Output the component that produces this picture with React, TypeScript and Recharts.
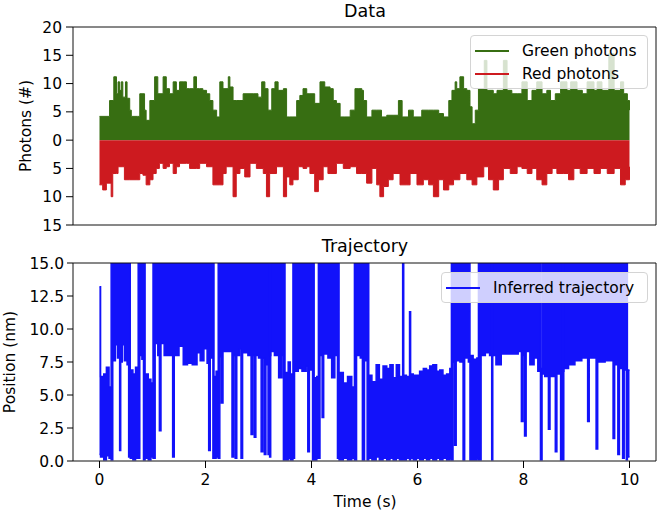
import React from "react";
import { AreaChart, Area, XAxis, YAxis, ReferenceArea, Legend } from "recharts";

const FONT = '"DejaVu Sans", Verdana, sans-serif';
const GREEN = "#376e12";
const RED = "#cd1a1f";
const BLUE = "#1212fa";

const timeTicks = [0, 2, 4, 6, 8, 10];
const photonTicks = [-15, -10, -5, 0, 5, 10, 15, 20];
const positionTicks = [0, 2.5, 5, 7.5, 10, 12.5, 15];

// green photon counts (upper envelope of the trace)
const greenT = [
  0, 0.18, 0.19, 0.27, 0.32, 0.35, 0.38, 0.41, 0.44, 0.49, 0.52, 0.57, 0.6, 0.72, 0.76, 0.82, 0.85, 0.88, 0.95,
  1.04, 1.1, 1.2, 1.26, 1.32, 1.39, 1.45, 1.51, 1.58, 1.64, 1.7, 1.78, 1.83, 1.89, 1.95, 2.02, 2.08, 2.14, 2.21,
  2.27, 2.33, 2.43, 2.46, 2.52, 2.58, 2.65, 2.71, 2.9, 2.99, 3.06, 3.12, 3.18, 3.25, 3.31, 3.37, 3.47, 3.53, 3.59,
  3.65, 3.72, 3.78, 3.84, 3.91, 3.97, 4.06, 4.16, 4.25, 4.35, 4.41, 4.47, 4.54, 4.63, 4.73, 4.82, 4.88, 4.95, 4.98,
  5.04, 5.14, 5.23, 5.32, 5.42, 5.54, 5.64, 5.71, 5.83, 5.92, 6.08, 6.21, 6.3, 6.4, 6.49, 6.59, 6.65, 6.71, 6.74,
  6.8, 6.87, 6.93, 6.99, 7.03, 7.09, 7.15, 7.21, 7.26, 7.31, 7.43, 7.5, 7.62, 7.69, 7.78, 7.88, 7.97, 8.07, 8.16,
  8.25, 8.35, 8.44, 8.51, 8.6, 8.7, 8.82, 8.89, 9.01, 9.11, 9.2, 9.33, 9.39, 9.48, 9.61, 9.71, 9.83, 9.89, 9.96, 10,
];
const greenV = [
  4.2, 4.2, 7.0, 11.2, 8.2, 10.3, 8.8, 10.3, 7.6, 10.3, 7.4, 5.3, 4.2, 4.2, 8.2, 8.2, 5.3, 3.5, 7.0,
  11.2, 8.2, 11.2, 9.1, 8.2, 10.3, 8.8, 10.3, 10.3, 9.1, 9.1, 11.2, 9.1, 9.1, 8.8, 8.2, 7.0, 5.3, 4.1,
  10.3, 9.1, 11.2, 9.4, 7.0, 7.0, 7.0, 8.2, 8.2, 7.6, 10.3, 9.1, 5.3, 9.1, 10.3, 8.8, 9.1, 4.1, 4.1,
  4.1, 7.0, 7.9, 9.1, 8.2, 8.2, 6.5, 10.3, 9.4, 9.1, 7.0, 6.5, 4.1, 4.1, 5.3, 9.1, 9.1, 8.8, 7.0,
  4.1, 5.3, 5.3, 4.1, 4.4, 4.4, 7.0, 4.1, 5.3, 4.1, 5.3, 5.3, 5.3, 4.7, 4.1, 7.0, 8.8, 10.3, 9.1,
  11.2, 9.1, 8.8, 5.9, 2.9, 5.3, 9.1, 9.1, 14.1, 8.8, 8.2, 8.8, 14.1, 8.8, 8.2, 8.2, 10.3, 7.0, 8.8,
  10.3, 8.2, 8.8, 7.0, 8.2, 10.3, 8.8, 10.3, 8.8, 8.2, 10.3, 8.8, 10.3, 8.8, 15.3, 8.8, 10.3, 8.2, 7.0, 5.3,
];

// red photon counts (drawn downwards)
const redT = [
  0, 0.06, 0.13, 0.22, 0.25, 0.32, 0.35, 0.44, 0.47, 0.57, 0.69, 0.76, 0.82, 0.88, 0.95, 1.01, 1.07, 1.13, 1.2,
  1.26, 1.32, 1.39, 1.45, 1.51, 1.64, 1.7, 1.83, 1.89, 2.02, 2.14, 2.27, 2.33, 2.39, 2.52, 2.58, 2.65, 2.74, 2.84,
  2.96, 3.09, 3.15, 3.21, 3.34, 3.47, 3.53, 3.59, 3.65, 3.75, 3.84, 3.91, 3.97, 4.06, 4.13, 4.22, 4.31, 4.35, 4.47,
  4.6, 4.73, 4.85, 4.95, 5.04, 5.14, 5.23, 5.29, 5.36, 5.45, 5.54, 5.67, 5.8, 5.86, 5.99, 6.11, 6.21, 6.3, 6.4,
  6.49, 6.59, 6.68, 6.8, 6.93, 7.03, 7.12, 7.25, 7.34, 7.43, 7.53, 7.62, 7.75, 7.88, 7.97, 8.07, 8.16, 8.25, 8.35,
  8.44, 8.54, 8.63, 8.76, 8.85, 8.95, 9.07, 9.2, 9.33, 9.45, 9.58, 9.71, 9.83, 9.92, 10,
];
const redV = [
  7.9, 8.8, 7.6, 10.0, 5.9, 5.9, 4.7, 4.7, 7.0, 7.0, 7.0, 5.9, 6.2, 7.9, 7.0, 5.9, 5.0, 4.1, 5.0,
  4.7, 4.1, 5.9, 4.7, 4.1, 4.1, 5.0, 5.0, 4.1, 4.7, 7.9, 7.9, 5.9, 4.7, 10.0, 5.9, 5.0, 6.5, 4.1,
  5.0, 5.9, 10.0, 5.9, 4.7, 10.0, 6.5, 7.9, 7.0, 4.7, 5.0, 4.7, 5.9, 9.1, 7.0, 4.7, 5.9, 5.9, 4.1,
  5.0, 4.7, 5.9, 5.9, 7.6, 5.0, 7.9, 10.0, 8.2, 7.0, 5.9, 7.9, 7.9, 5.9, 7.9, 7.0, 7.9, 10.0, 7.0,
  8.8, 7.9, 7.0, 5.9, 7.0, 7.9, 6.5, 4.7, 7.0, 8.8, 7.0, 5.0, 5.9, 4.7, 5.0, 5.9, 5.0, 7.0, 7.9,
  5.9, 5.0, 5.9, 5.9, 7.0, 5.0, 5.9, 5.0, 5.9, 5.0, 5.9, 5.0, 7.9, 7.0, 4.7,
];

// inferred trajectory: lower / upper extent of the trace around each time
const blueT = [
  0, 0.02, 0.08, 0.13, 0.18, 0.22, 0.25, 0.3, 0.34, 0.38, 0.4, 0.43, 0.47, 0.52, 0.55, 0.58, 0.63, 0.68, 0.73,
  0.76, 0.8, 0.83, 0.86, 0.92, 0.97, 1.01, 1.05, 1.1, 1.13, 1.16, 1.22, 1.3, 1.38, 1.41, 1.5, 1.58, 1.66, 1.75,
  1.84, 1.9, 1.97, 2.03, 2.06, 2.09, 2.14, 2.16, 2.2, 2.24, 2.27, 2.3, 2.33, 2.5, 2.53, 2.56, 2.59, 2.64, 2.67,
  2.7, 2.8, 2.86, 2.89, 2.92, 2.95, 3.0, 3.05, 3.08, 3.11, 3.14, 3.18, 3.21, 3.23, 3.3, 3.38, 3.44, 3.47, 3.5,
  3.56, 3.6, 3.65, 3.68, 3.75, 3.82, 3.9, 3.93, 3.96, 4.02, 4.05, 4.1, 4.13, 4.16, 4.2, 4.23, 4.31, 4.38, 4.44,
  4.49, 4.52, 4.6, 4.68, 4.76, 4.81, 4.85, 4.92, 4.96, 5.0, 5.05, 5.08, 5.14, 5.22, 5.28, 5.35, 5.42, 5.48, 5.54,
  5.6, 5.66, 5.72, 5.74, 5.79, 5.85, 5.87, 5.92, 5.98, 6.04, 6.11, 6.17, 6.23, 6.29, 6.36, 6.42, 6.48, 6.55, 6.61,
  6.64, 6.67, 6.7, 6.73, 6.8, 6.86, 6.89, 6.96, 6.99, 7.05, 7.12, 7.15, 7.2, 7.28, 7.36, 7.4, 7.42, 7.48, 7.58,
  7.7, 7.8, 7.9, 7.96, 7.99, 8.02, 8.05, 8.12, 8.2, 8.27, 8.32, 8.35, 8.4, 8.47, 8.5, 8.6, 8.63, 8.7, 8.74, 8.76,
  8.85, 8.97, 9.1, 9.21, 9.24, 9.37, 9.4, 9.54, 9.69, 9.72, 9.78, 9.81, 9.87, 9.9, 9.94, 9.96, 10,
];
const blueLo = [
  0.5, 0.3, 0.1, 0.4, 0.2, 0.1, 7.6, 8.8, 7.8, 0.8, 7.5, 8.8, 7.6, 7.3, 0.3, 0.2, 0.1, 0.2, 0.2,
  8.0, 7.7, 0.1, 0.2, 0.1, 0.3, 0.2, 8.9, 8.0, 2.3, 8.9, 8.0, 8.0, 0.3, 8.0, 8.7, 7.3, 7.4, 7.3,
  8.2, 7.6, 8.5, 7.4, 0.8, 7.8, 0.2, 0.2, 0.3, 0.2, 7.9, 4.4, 8.3, 0.3, 8.0, 0.2, 8.0, 8.5, 0.2,
  8.2, 8.0, 2.0, 8.0, 1.8, 8.0, 7.8, 0.7, 7.8, 0.5, 7.3, 0.5, 0.3, 8.3, 8.0, 6.3, 8.0, 0.1, 0.1,
  0.2, 0.1, 0.2, 6.8, 7.0, 6.8, 7.2, 0.7, 6.9, 0.1, 0.1, 0.2, 0.2, 8.0, 3.3, 8.1, 7.8, 6.3, 8.0,
  0.2, 0.1, 0.2, 0.1, 0.2, 0.1, 8.0, 7.8, 0.1, 7.6, 0.1, 0.2, 0.1, 0.3, 0.1, 0.2, 0.1, 0.2, 0.1,
  0.2, 0.1, 0.2, 0.1, 0.2, 0.1, 0.2, 0.1, 0.2, 0.1, 0.2, 0.1, 0.2, 0.1, 0.2, 0.1, 0.2, 0.1, 0.2,
  0.1, 7.5, 1.2, 7.6, 7.5, 0.1, 7.8, 7.5, 0.1, 0.1, 0.2, 0.1, 8.0, 8.2, 8.0, 0.1, 8.0, 7.3, 8.1,
  8.1, 8.1, 8.3, 3.0, 8.0, 1.9, 8.3, 7.3, 7.8, 6.8, 0.1, 6.6, 6.4, 2.4, 6.4, 0.7, 6.6, 0.1, 0.1, 7.0,
  7.3, 7.6, 7.8, 3.0, 7.8, 0.9, 7.5, 7.6, 1.7, 7.3, 0.5, 7.0, 0.2, 6.9, 0.1, 0.3, 0.3,
];
const blueHi = [
  13.2, 6.4, 6.6, 7.1, 5.6, 15, 15, 15, 15, 15, 15, 15, 15, 15, 15, 6.9, 6.6, 7.1, 15,
  15, 15, 15, 6.6, 6.2, 5.9, 15, 15, 15, 15, 15, 15, 15, 15, 15, 15, 15, 15, 15,
  15, 15, 15, 15, 15, 15, 15, 6.4, 6.8, 15, 15, 15, 15, 15, 15, 15, 15, 15, 15,
  15, 15, 15, 15, 15, 15, 15, 15, 15, 15, 15, 15, 8.0, 15, 15, 15, 15, 15, 6.7,
  7.5, 6.6, 15, 15, 15, 15, 15, 15, 15, 15, 6.3, 6.4, 15, 15, 15, 15, 15, 15, 15,
  15, 6.7, 5.9, 6.4, 5.6, 15, 15, 15, 15, 15, 15, 6.5, 6.0, 7.3, 6.2, 7.2, 7.0, 7.3, 6.3,
  7.3, 6.4, 15, 6.5, 6.4, 11.3, 6.6, 6.5, 6.5, 6.8, 7.0, 6.9, 7.2, 7.3, 6.8, 6.9, 6.5, 6.6, 7.0,
  15, 15, 15, 15, 15, 15, 15, 15, 8.0, 7.7, 7.8, 15, 15, 15, 15, 8.0, 15, 15, 15,
  15, 15, 15, 15, 15, 15, 15, 15, 15, 15, 7.0, 15, 15, 15, 15, 15, 15, 15, 6.8, 15,
  15, 15, 15, 15, 15, 15, 15, 15, 15, 15, 15, 15, 15, 15, 15, 6.9, 6.9,
];

const photonRows = [
  ...greenT.map((t, i) => ({ t, green: greenV[i] })),
  ...redT.map((t, i) => ({ t, red: -redV[i] })),
].sort((a, b) => a.t - b.t);

const trajRows = blueT.map((t, i) => ({ t, pos: [blueLo[i], blueHi[i]] }));

const tickStyle = { fill: "#000", fontSize: 15.5, fontFamily: FONT };

function LegendBox({ items }: { items: { label: string; color: string }[] }) {
  return (
    <div
      style={{
        background: "rgba(255,255,255,0.8)",
        border: "1px solid #d4d4d4",
        borderRadius: 4,
        padding: "3px 0 3px 4px",
        fontFamily: FONT,
        fontSize: 15.5,
        color: "#000",
        boxSizing: "border-box",
      }}
    >
      {items.map((it) => (
        <div key={it.label} style={{ display: "flex", alignItems: "center", height: 23 }}>
          <span
            style={{ display: "inline-block", width: 34, borderTop: `2px solid ${it.color}`, marginRight: 13 }}
          />
          {it.label}
        </div>
      ))}
    </div>
  );
}

export default function App() {
  return (
    <div style={{ position: "absolute", left: 0, top: 0, width: 660, height: 513, background: "#fff" }}>
      <div style={{ position: "absolute", left: 0, top: 0 }}>
        <AreaChart width={660} height={240} data={photonRows} margin={{ top: 27, right: 4, bottom: 0, left: 0 }}>
          <XAxis
            dataKey="t"
            type="number"
            domain={[-0.5, 10.5]}
            ticks={timeTicks}
            tick={false}
            tickLine={{ stroke: "#000" }}
            tickSize={7}
            axisLine={false}
            height={15}
            allowDataOverflow
          />
          <YAxis
            type="number"
            domain={[-15, 20]}
            ticks={photonTicks}
            tickFormatter={(v: number) => String(Math.abs(v))}
            width={73}
            tickSize={7}
            tickMargin={4}
            axisLine={false}
            tick={tickStyle}
            tickLine={{ stroke: "#000" }}
            allowDataOverflow
          />
          <Area
            dataKey="green"
            type="stepAfter"
            stroke={GREEN}
            strokeWidth={1}
            fill={GREEN}
            fillOpacity={1}
            baseValue={0}
            connectNulls
            dot={false}
            activeDot={false}
            isAnimationActive={false}
          />
          <Area
            dataKey="red"
            type="stepAfter"
            stroke={RED}
            strokeWidth={1}
            fill={RED}
            fillOpacity={1}
            baseValue={0}
            connectNulls
            dot={false}
            activeDot={false}
            isAnimationActive={false}
          />
          <ReferenceArea x1={-0.5} x2={10.5} y1={-15} y2={20} fill="none" stroke="#111" strokeWidth={1} />
          <Legend
            layout="vertical"
            align="center"
            verticalAlign="middle"
            wrapperStyle={{ left: 470, top: 35, width: 178 }}
            content={() => (
              <LegendBox
                items={[
                  { label: "Green photons", color: GREEN },
                  { label: "Red photons", color: RED },
                ]}
              />
            )}
          />
        </AreaChart>
      </div>
      <div style={{ position: "absolute", left: 0, top: 240 }}>
        <AreaChart width={660} height={273} data={trajRows} margin={{ top: 23, right: 4, bottom: 22, left: 0 }}>
          <XAxis
            dataKey="t"
            type="number"
            domain={[-0.5, 10.5]}
            ticks={timeTicks}
            tick={tickStyle}
            tickLine={{ stroke: "#000" }}
            tickSize={7}
            tickMargin={6}
            axisLine={false}
            height={30}
            allowDataOverflow
          />
          <YAxis
            type="number"
            domain={[0, 15]}
            ticks={positionTicks}
            tickFormatter={(v: number) => v.toFixed(1)}
            width={73}
            tickSize={6}
            tickMargin={3}
            axisLine={false}
            tick={tickStyle}
            tickLine={{ stroke: "#000" }}
            allowDataOverflow
          />
          <Area
            dataKey="pos"
            type="stepAfter"
            stroke={BLUE}
            strokeWidth={1.5}
            fill={BLUE}
            fillOpacity={1}
            dot={false}
            activeDot={false}
            isAnimationActive={false}
          />
          <ReferenceArea x1={-0.5} x2={10.5} y1={0} y2={15} fill="none" stroke="#111" strokeWidth={1} />
          <Legend
            layout="vertical"
            align="center"
            verticalAlign="middle"
            wrapperStyle={{ left: 441, top: 32, width: 207 }}
            content={() => <LegendBox items={[{ label: "Inferred trajectory", color: BLUE }]} />}
          />
        </AreaChart>
      </div>
      <svg
        width={660}
        height={513}
        style={{ position: "absolute", left: 0, top: 0, pointerEvents: "none" }}
        fontFamily={FONT}
      >
        <text x={365} y={17} fontSize={17.5} textAnchor="middle">Data</text>
        <text x={365} y={252} fontSize={17.5} textAnchor="middle">Trajectory</text>
        <text x={365} y={507} fontSize={15.5} textAnchor="middle">Time (s)</text>
        <text x={31} y={126} fontSize={15.5} textAnchor="middle" transform="rotate(-90 31 126)">
          Photons (#)
        </text>
        <text x={15} y={362} fontSize={15.5} textAnchor="middle" transform="rotate(-90 15 362)">
          Position (nm)
        </text>
      </svg>
    </div>
  );
}
